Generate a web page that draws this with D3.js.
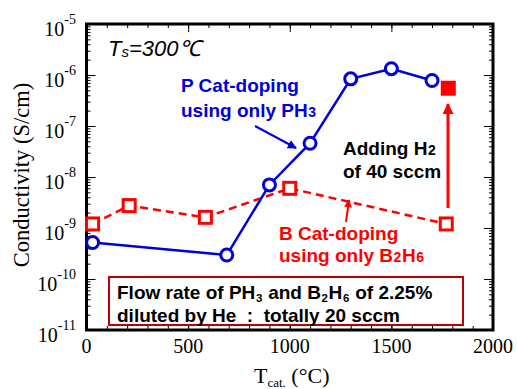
<!DOCTYPE html>
<html>
<head>
<meta charset="utf-8">
<script src="https://cdn.jsdelivr.net/npm/d3@7"></script>
<style>
  html, body { margin: 0; padding: 0; background: #fff; }
  svg { display: block; }
</style>
</head>
<body>
<svg id="chart" width="517" height="389"></svg>
<script>
// Decades shown on the conductivity axis (exponents of 10)
const yDecades = [-11, -10, -9, -8, -7, -6, -5];
// Catalyzer temperature tick labels
const xTickValues = [0, 500, 1000, 1500, 2000];

// P Cat-doping using only PH3
const phosT = [30, 690, 900, 1100, 1300, 1500, 1700];
const phosSigma = [5.2e-10, 2.95e-10, 7.0e-9, 4.6e-8, 8.4e-7, 1.33e-6, 7.8e-7];

// B Cat-doping using only B2H6
const boronT = [30, 210, 585, 1000, 1770];
const boronSigma = [1.2e-9, 2.75e-9, 1.62e-9, 6.0e-9, 1.2e-9];

// B Cat-doping after adding 40 sccm H2
const boronH2T = [1780];
const boronH2Sigma = [5.5e-7];

const BLUE = "#0000dd";
const RED = "#ff0000";

const svg = d3.select("#chart");
const pL = 86.5, pR = 493, pT = 24, pB = 330;

const x = d3.scaleLinear().domain([0, 2000]).range([pL, pR]);
const y = d3.scaleLog().domain([1e-11, 1e-5]).range([pB, pT]);

const defs = svg.append("defs");
function arrowMarker(id, color, w, h) {
  defs.append("marker")
    .attr("id", id)
    .attr("viewBox", "0 0 10 10")
    .attr("refX", 9).attr("refY", 5)
    .attr("markerUnits", "userSpaceOnUse")
    .attr("markerWidth", w).attr("markerHeight", h)
    .attr("orient", "auto")
    .append("path").attr("d", "M0,0 L10,5 L0,10 z").attr("fill", color);
}
arrowMarker("arrBlue", BLUE, 11, 9);
arrowMarker("arrRed", RED, 13, 11);
arrowMarker("arrRedSmall", RED, 9, 8);

// ---- minor / major ticks on all four sides ----
const minorY = y.ticks().filter(v => v > 1e-11 && v < 1e-5);
const majorY = yDecades.map(e => Math.pow(10, e));
const minorX = d3.range(100, 2000, 100);

function ticks(axisFn, scale, values, size, transform) {
  svg.append("g").attr("transform", transform)
    .call(axisFn(scale).tickValues(values).tickSize(size).tickFormat(""))
    .call(g => g.select(".domain").remove())
    .selectAll("line").attr("stroke", "#000").attr("stroke-width", 1);
}
ticks(d3.axisRight, y, minorY, 4, `translate(${pL},0)`);
ticks(d3.axisRight, y, majorY, 9, `translate(${pL},0)`);
ticks(d3.axisLeft, y, minorY, 4, `translate(${pR},0)`);
ticks(d3.axisLeft, y, majorY, 9, `translate(${pR},0)`);
ticks(d3.axisTop, x, minorX, 4, `translate(0,${pB})`);
ticks(d3.axisTop, x, xTickValues, 8, `translate(0,${pB})`);
ticks(d3.axisBottom, x, minorX, 4, `translate(0,${pT})`);
ticks(d3.axisBottom, x, xTickValues, 8, `translate(0,${pT})`);

// frame
svg.append("rect")
  .attr("x", pL).attr("y", pT)
  .attr("width", pR - pL).attr("height", pB - pT)
  .attr("fill", "none").attr("stroke", "#000").attr("stroke-width", 3);

// ---- tick labels ----
const serif = "'Liberation Serif', 'Times New Roman', serif";
const yLab = svg.append("g").attr("font-family", serif).attr("fill", "#000");
yDecades.forEach(e => {
  const t = yLab.append("text")
    .attr("x", 76).attr("y", y(Math.pow(10, e)) + 12)
    .attr("text-anchor", "end");
  t.append("tspan").attr("font-size", 20).text("10");
  t.append("tspan").attr("font-size", 14).attr("dy", -12).text(String(e));
});

svg.append("g").attr("font-family", serif).attr("font-size", 20)
  .selectAll("text").data(xTickValues).join("text")
  .attr("x", d => x(d)).attr("y", pB + 23)
  .attr("text-anchor", "middle")
  .text(d => d);

// axis titles
svg.append("text")
  .attr("font-family", serif).attr("font-size", 22.5)
  .attr("text-anchor", "middle")
  .attr("transform", `translate(29,${(pT + pB) / 2 - 2}) rotate(-90)`)
  .text("Conductivity (S/cm)");

const xt = svg.append("text")
  .attr("font-family", serif).attr("font-size", 22)
  .attr("x", 254).attr("y", 383);
xt.append("tspan").text("T");
xt.append("tspan").attr("font-size", 13).attr("dy", 4).text("cat.");
xt.append("tspan").attr("dy", -4).text(" (°C)");

// ---- series ----
const lineGen = d3.line().x(d => x(d[0])).y(d => y(d[1]));
const phos = phosT.map((t, i) => [t, phosSigma[i]]);
const boron = boronT.map((t, i) => [t, boronSigma[i]]);

svg.append("path").datum(boron)
  .attr("d", lineGen).attr("fill", "none")
  .attr("stroke", RED).attr("stroke-width", 2.5).attr("stroke-dasharray", "8,5");

svg.append("path").datum(phos)
  .attr("d", lineGen).attr("fill", "none")
  .attr("stroke", BLUE).attr("stroke-width", 2.5);

const sq = 12;
svg.append("g").selectAll("rect").data(boron).join("rect")
  .attr("x", d => x(d[0]) - sq / 2).attr("y", d => y(d[1]) - sq / 2)
  .attr("width", sq).attr("height", sq)
  .attr("fill", "#fff").attr("stroke", RED).attr("stroke-width", 3);

svg.append("g").selectAll("circle").data(phos).join("circle")
  .attr("cx", d => x(d[0])).attr("cy", d => y(d[1])).attr("r", 6)
  .attr("fill", "#fff").attr("stroke", BLUE).attr("stroke-width", 3);

const fsq = 15;
svg.append("g").selectAll("rect").data(boronH2T.map((t, i) => [t, boronH2Sigma[i]])).join("rect")
  .attr("x", d => x(d[0]) - fsq / 2).attr("y", d => y(d[1]) - fsq / 2)
  .attr("width", fsq).attr("height", fsq)
  .attr("fill", RED);

// ---- annotations ----
const sans = "'Liberation Sans', Arial, sans-serif";

const ts = svg.append("text").attr("font-family", sans).attr("font-style", "italic")
  .attr("font-size", 22).attr("x", 108).attr("y", 56).attr("fill", "#000");
ts.append("tspan").text("T");
ts.append("tspan").attr("font-size", 15).attr("dy", 1).text("s");
ts.append("tspan").attr("dy", -1).text("=300℃");

// Each line is a run of pieces [text, fontSize?, baselineOffset?]; pieces are
// laid out side by side as separate text nodes so sub-scripts sit cleanly.
function label(xp, yp, lines, color) {
  const g = svg.append("g").attr("font-family", sans).attr("font-weight", "bold")
    .attr("font-size", 19).attr("fill", color);
  lines.forEach((parts, i) => {
    let cx = xp;
    parts.forEach(p => {
      const t = g.append("text").attr("x", cx).attr("y", yp[i] + (p[2] || 0))
        .attr("xml:space", "preserve")
        .style("white-space", "pre")
        .text(p[0]);
      if (p[1]) t.attr("font-size", p[1]);
      cx += t.node().getComputedTextLength() + 0.6;
    });
  });
}

label(181, [92, 117], [[["P Cat-doping"]], [["using only PH"], ["3", 14]]], BLUE);
label(343, [155, 178], [[["Adding H"], ["2", 14]], [["of 40 sccm"]]], "#000");
label(279, [240, 262], [[["B Cat-doping"]], [["using only B"], ["2", 14], ["H"], ["6", 14]]], RED);

// arrows
svg.append("line").attr("x1", 255).attr("y1", 126).attr("x2", 296).attr("y2", 148)
  .attr("stroke", BLUE).attr("stroke-width", 2).attr("marker-end", "url(#arrBlue)");
svg.append("line").attr("x1", 448).attr("y1", 208).attr("x2", 448).attr("y2", 104)
  .attr("stroke", RED).attr("stroke-width", 3).attr("marker-end", "url(#arrRed)");
svg.append("line").attr("x1", 346).attr("y1", 222).attr("x2", 349).attr("y2", 200)
  .attr("stroke", RED).attr("stroke-width", 2).attr("marker-end", "url(#arrRedSmall)");

// conditions box
svg.append("rect").attr("x", 109).attr("y", 277).attr("width", 354).attr("height", 48)
  .attr("fill", "#fff").attr("stroke", "#c00000").attr("stroke-width", 2);
label(117, [299, 321.5], [
  [["Flow rate of PH"], ["3", 11.5, 2.5], [" and B"], ["2", 11.5, 2.5], ["H"], ["6", 11.5, 2.5], [" of 2.25%"]],
  [["diluted by He  :  totally 20 sccm"]]
], "#000");
</script>
</body>
</html>
